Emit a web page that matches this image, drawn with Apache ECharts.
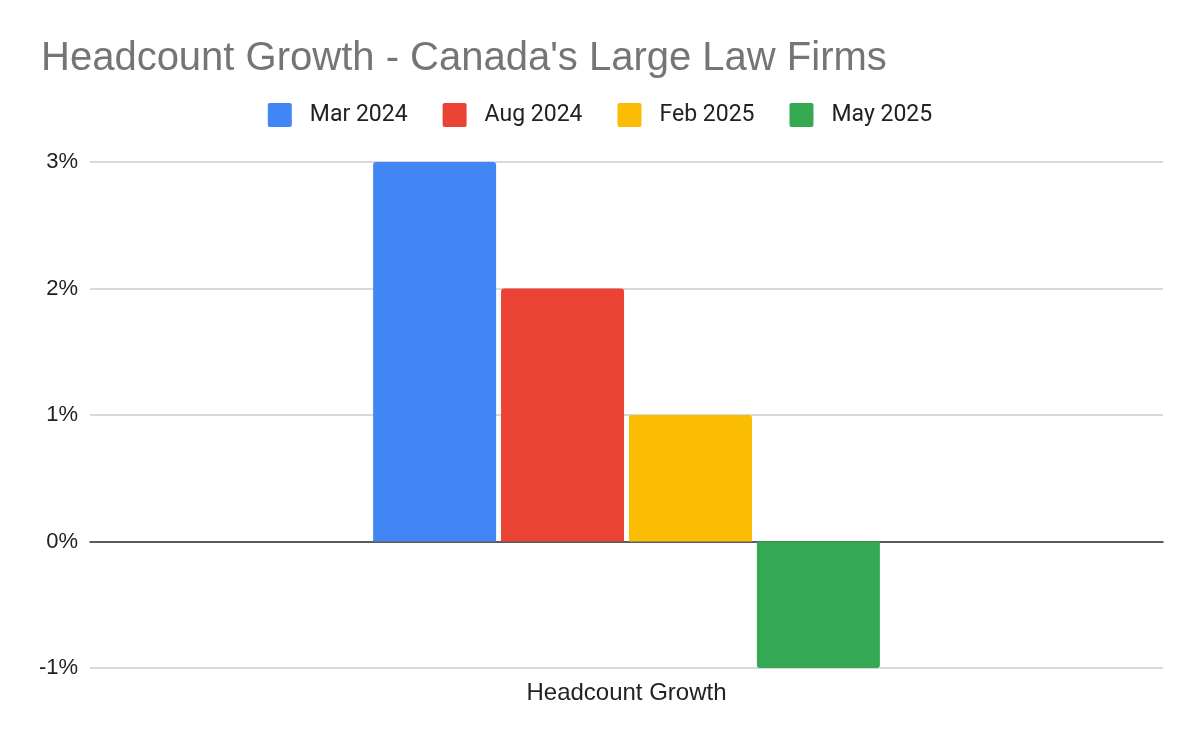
<!DOCTYPE html>
<html>
<head>
<meta charset="utf-8">
<script src="https://cdn.jsdelivr.net/npm/echarts@6/dist/echarts.min.js"></script>
<style>html,body{margin:0;padding:0;background:#fff}#c{width:1200px;height:742px}</style>
</head>
<body>
<div id="c"></div>
<script>
const categories = ["Headcount Growth"];
const seriesNames = ["Mar 2024", "Aug 2024", "Feb 2025", "May 2025"];
const seriesValues = [[3], [2], [1], [-1]];
const seriesColors = ["#4285f4", "#ea4335", "#fbbc04", "#34a853"];
const yTicks = { min: -1, max: 3, interval: 1 };

const legendIcon = 'path://M2,0H22Q24,0 24,2V22Q24,24 22,24H2Q0,24 0,22V2Q0,0 2,0Z';

const chart = echarts.init(document.getElementById('c'), null, { renderer: 'canvas' });
chart.setOption({
  animation: false,
  backgroundColor: '#ffffff',
  title: {
    text: "Headcount Growth - Canada's Large Law Firms",
    left: 36, top: 34,
    textStyle: { fontFamily: 'Liberation Sans, Arial, sans-serif', fontSize: 40, fontWeight: 'normal', color: '#757575' }
  },
  legend: {
    top: 98, left: 'center',
    itemWidth: 24, itemHeight: 24, itemGap: 35,
    icon: legendIcon,
    textStyle: { fontFamily: 'Roboto, sans-serif', fontSize: 23, color: '#222', padding: [0, 0, 0, 13] },
    data: seriesNames
  },
  grid: { left: 90, right: 37, top: 162, bottom: 74, containLabel: false },
  xAxis: {
    type: 'category',
    data: categories,
    axisLine: { show: true, onZero: true, lineStyle: { color: '#333', width: 1.5 } },
    axisTick: { show: false },
    axisLabel: { fontFamily: 'Liberation Sans, Arial, sans-serif', fontSize: 24, color: '#222', margin: 13 },
    position: 'bottom'
  },
  yAxis: {
    type: 'value',
    min: yTicks.min, max: yTicks.max, interval: yTicks.interval,
    axisLine: { show: false },
    axisTick: { show: false },
    splitLine: { lineStyle: { color: '#cccccc', width: 1.5 } },
    axisLabel: { formatter: v => v + '%', fontFamily: 'Liberation Sans, Arial, sans-serif', fontSize: 22, color: '#222', margin: 12 }
  },
  series: seriesNames.map((n, i) => ({
    name: n,
    type: 'bar',
    data: seriesValues[i].map(v => ({ value: v, itemStyle: { borderRadius: v >= 0 ? [3, 3, 0, 0] : [0, 0, 3, 3] } })),
    barWidth: 123,
    barGap: '4%',
    itemStyle: { color: seriesColors[i] }
  }))
});
</script>
</body>
</html>
